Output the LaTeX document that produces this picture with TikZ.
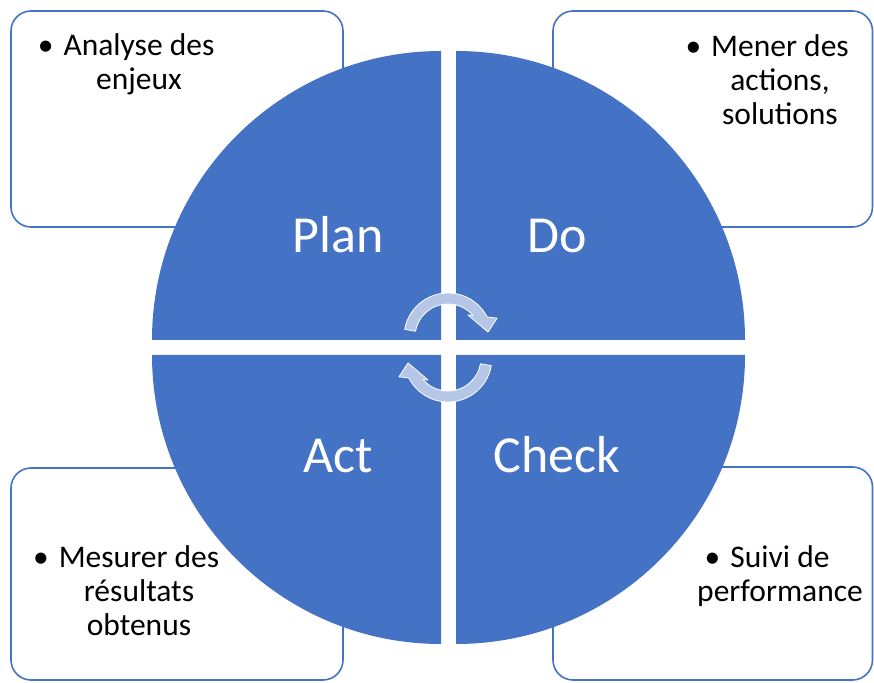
\documentclass[tikz,border=0pt]{standalone}
\usepackage{fontspec}
\setmainfont{Carlito}
\usetikzlibrary{calc}
\definecolor{pdcablue}{HTML}{4472C4}
\definecolor{arrowfill}{RGB}{182,198,230}
\tikzset{
  infobox/.style={draw=pdcablue, line width=1.6pt, fill=white, rounded corners=20pt},
  quadrant/.style={fill=pdcablue},
  cyclearrow/.style={fill=arrowfill, draw=white, line width=0.8pt, line join=round},
  biglabel/.style={text=white, font=\fontsize{52}{60}\selectfont, anchor=base, inner sep=0pt},
  boxtext/.style={text=black, font=\fontsize{31.5}{34}\selectfont, align=center, anchor=base, inner sep=0pt}
}
\newcommand\pdcabullet{\llap{•\hspace{0.32em}}}
\newcommand\pdcaarrow[2]{%
  \path[cyclearrow] ($(#1)+({170+#2}:44)$) arc[start angle={170+#2}, end angle={27+#2}, radius=44]
    -- ($(#1)+({21+#2}:52.6)$) -- ($(#1)+({7+#2}:40.3)$) -- ($(#1)+({48+#2}:29.7)$)
    -- ($(#1)+({40.7+#2}:33)$) arc[start angle={40.7+#2}, end angle={170+#2}, radius=33] -- cycle;}
\begin{document}
\begin{tikzpicture}[x=1pt,y=1pt]
\useasboundingbox (0,0) rectangle (874,682);
% corner boxes
\draw[infobox] (11,455) rectangle (343,671);
\draw[infobox] (553,455) rectangle (872.5,671);
\draw[infobox] (11,2) rectangle (343,214);
\draw[infobox] (553,2) rectangle (872.5,215);
% quadrants
\fill[quadrant] (441,342) -- (152,342) arc[start angle=180, end angle=90, radius=289] -- cycle;
\fill[quadrant] (456,342) -- (456,631) arc[start angle=90, end angle=0, radius=289] -- cycle;
\fill[quadrant] (441,327) -- (441,38) arc[start angle=270, end angle=180, radius=289] -- cycle;
\fill[quadrant] (456,327) -- (745,327) arc[start angle=0, end angle=-90, radius=289] -- cycle;
% cycle arrows
\coordinate (ctop) at (448,345);
\coordinate (cbot) at (448,324);
\pdcaarrow{ctop}{0}
\pdcaarrow{cbot}{180}
% labels
\node[biglabel] (plan) at (338,429) {Plan};
\node[biglabel] (do) at (557,429) {Do};
\node[biglabel] (act) at (338,209) {Act};
\node[biglabel] (check) at (557,209) {Check};
% box texts (anchor = baseline of last line)
\node[boxtext] (tplan) at (139,592) {\pdcabullet Analyse des\\enjeux};
\node[boxtext] (tdo) at (780,557) {\pdcabullet Mener des\\actions,\\solutions};
\node[boxtext] (tact) at (139,47) {\pdcabullet Mesurer des\\résultats\\obtenus};
\node[boxtext] (tcheck) at (780,81) {\pdcabullet Suivi de\\performance};
\end{tikzpicture}
\end{document}
